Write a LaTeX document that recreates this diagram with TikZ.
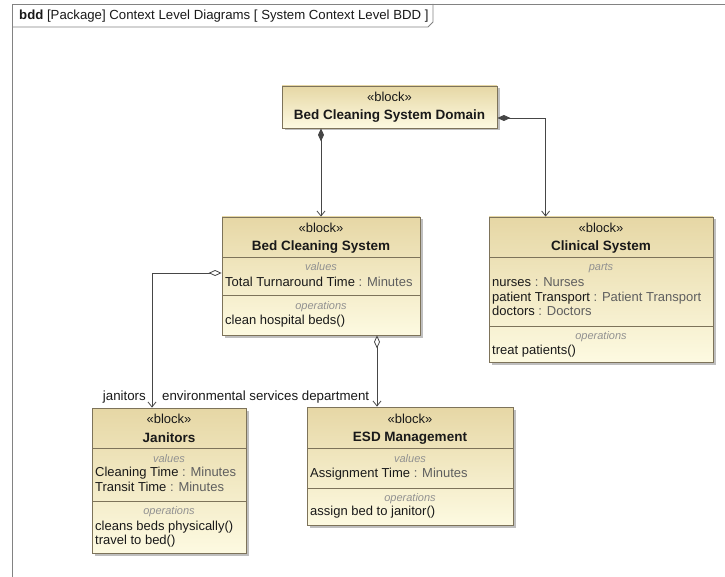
\documentclass[tikz,border=0pt]{standalone}
\usepackage{fontspec}
\setmainfont{Liberation Sans}
\usetikzlibrary{arrows.meta,shadows}

\definecolor{blkline}{RGB}{125,115,90}
\definecolor{blktop}{RGB}{230,215,165}
\definecolor{blkbot}{RGB}{253,250,225}
\definecolor{frameline}{RGB}{130,130,130}
\definecolor{wire}{RGB}{70,70,70}
\definecolor{ink}{RGB}{25,25,25}
\definecolor{typeink}{RGB}{95,95,95}
\definecolor{compink}{RGB}{145,145,145}

\tikzset{
  blk/.style={draw=blkline, line width=0.8pt, top color=blktop, bottom color=blkbot,
    drop shadow={shadow xshift=2.5pt, shadow yshift=-2.5pt, fill=black!50, opacity=0.5},
    inner sep=0pt},
  cline/.style={draw=blkline, line width=0.7pt},
  stereo/.style={anchor=base, font=\fontsize{13}{15}\selectfont, text=ink, inner sep=0pt},
  bname/.style={anchor=base, font=\fontsize{13.5}{15}\selectfont\bfseries, text=ink, inner sep=0pt},
  complabel/.style={anchor=base, font=\fontsize{11}{13}\selectfont\itshape, text=compink, inner sep=0pt},
  feat/.style={anchor=base west, font=\fontsize{13}{15}\selectfont, text=ink, inner sep=0pt},
  rolelbl/.style={font=\fontsize{13.3}{15}\selectfont, text=ink, inner sep=0pt},
  wirebase/.style={draw=wire, line width=0.8pt},
  compos/.style={wirebase, {Diamond[length=13pt,width=6pt,fill=wire]}-{Straight Barb[length=5pt,width=8pt]}},
  aggr/.style={wirebase, {Diamond[open,length=13pt,width=6pt,fill=white]}-{Straight Barb[length=5pt,width=8pt]}},
}
\newcommand{\ty}[1]{{\color{typeink}#1}}

\begin{document}
\begin{tikzpicture}[x=1pt,y=-1pt]
\useasboundingbox (0,0) rectangle (725,577);

% diagram frame with its name tab
\draw[frameline, line width=0.8pt] (12,577) -- (12,4) -- (725,4);
\draw[frameline, line width=0.8pt] (12,27) -- (428,27) -- (433,22) -- (433,4);
\node[anchor=base west, font=\fontsize{13.2}{15}\selectfont, text=ink, inner sep=0pt] (title) at (19,20)
  {\textbf{bdd} [Package] Context Level Diagrams [ System Context Level BDD ]};

% Bed Cleaning System Domain
\node[blk, minimum width=215pt, minimum height=42pt] (dom) at (389.5,107) {};
\node[stereo] (domst) at (389.5,102) {«block»};
\node[bname] (domnm) at (389.5,120) {Bed Cleaning System Domain};

% Bed Cleaning System
\node[blk, minimum width=198pt, minimum height=118pt] (bcs) at (321,276) {};
\node[stereo] (bcsst) at (321,233) {«block»};
\node[bname] (bcsnm) at (321,251) {Bed Cleaning System};
\draw[cline] (222,257) -- (420,257);
\node[complabel] (bcsv) at (321,271) {values};
\node[feat] (bcsv1) at (225,286) {Total Turnaround Time \ty{: Minutes}};
\draw[cline] (222,295) -- (420,295);
\node[complabel] (bcso) at (321,309) {operations};
\node[feat] (bcso1) at (225,324) {clean hospital beds()};

% Clinical System
\node[blk, minimum width=224pt, minimum height=145pt] (clin) at (601,289.5) {};
\node[stereo] (clinst) at (601,233) {«block»};
\node[bname] (clinnm) at (601,251) {Clinical System};
\draw[cline] (489,257) -- (713,257);
\node[complabel] (clinp) at (601,271) {parts};
\node[feat] (clinp1) at (492,286) {nurses \ty{: Nurses}};
\node[feat] (clinp2) at (492,301) {patient Transport \ty{: Patient Transport}};
\node[feat] (clinp3) at (492,315) {doctors \ty{: Doctors}};
\draw[cline] (489,326) -- (713,326);
\node[complabel] (clino) at (601,339) {operations};
\node[feat] (clino1) at (492,354) {treat patients()};

% Janitors
\node[blk, minimum width=154pt, minimum height=145pt] (jan) at (169,480.5) {};
\node[stereo] (janst) at (169,423) {«block»};
\node[bname] (jannm) at (169,442) {Janitors};
\draw[cline] (92,448) -- (246,448);
\node[complabel] (janv) at (169,462) {values};
\node[feat] (janv1) at (95,476) {Cleaning Time \ty{: Minutes}};
\node[feat] (janv2) at (95,491) {Transit Time \ty{: Minutes}};
\draw[cline] (92,501) -- (246,501);
\node[complabel] (jano) at (169,514) {operations};
\node[feat] (jano1) at (95,530) {cleans beds physically()};
\node[feat] (jano2) at (95,544) {travel to bed()};

% ESD Management
\node[blk, minimum width=206pt, minimum height=118pt] (esd) at (410,466) {};
\node[stereo] (esdst) at (410,423) {«block»};
\node[bname] (esdnm) at (410,441) {ESD Management};
\draw[cline] (307,448) -- (513,448);
\node[complabel] (esdv) at (410,462) {values};
\node[feat] (esdv1) at (310,477) {Assignment Time \ty{: Minutes}};
\draw[cline] (307,488) -- (513,488);
\node[complabel] (esdo) at (410,501) {operations};
\node[feat] (esdo1) at (310,515) {assign bed to janitor()};

% associations
\draw[compos] (dom.south -| bcs.north) -- (bcs.north);
\draw[compos] ([yshift=-11pt]dom.east) -| ([xshift=57pt]clin.north west);
\draw[aggr] ([yshift=3pt]bcs.west) -| ([xshift=-17pt]jan.north);
\draw[aggr] ([xshift=56pt]bcs.south) -- ([xshift=-33pt]esd.north);

% role names at the part ends
\node[rolelbl, anchor=base east] (janrole) at (146,400) {janitors};
\node[rolelbl, anchor=base west] (esdrole) at (162,400) {environmental services department};
\end{tikzpicture}
\end{document}
